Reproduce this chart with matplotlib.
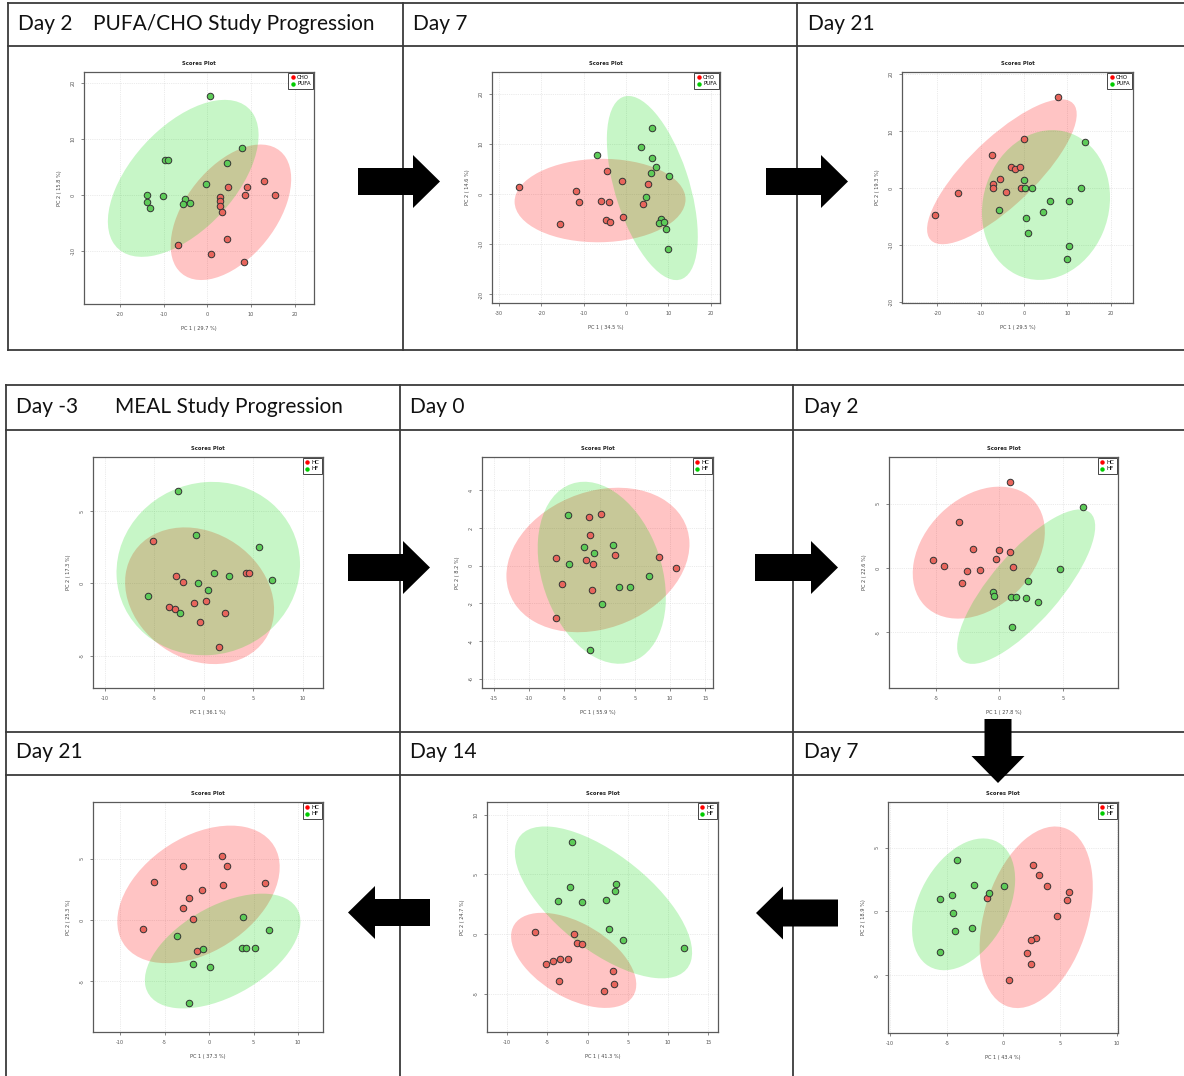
import numpy as np
import matplotlib
matplotlib.use('Agg')
import matplotlib.pyplot as plt
from matplotlib.patches import Ellipse, FancyArrow
from matplotlib.lines import Line2D

W, H = 1184, 1076

# PUFA/CHO study scores (PC1, PC2)
cho_d2_pc1 = [4.7, 9.0, 12.9, 8.7, 15.5, 3.0, 3.0, 3.0, 3.4, 4.6, -6.7, 0.8, 8.3]
cho_d2_pc2 = [1.4, 1.4, 2.5, 0.0, 0.0, -0.3, -1.0, -2.0, -3.0, -7.8, -8.9, -10.5, -12.0]
pufa_d2_pc1 = [0.6, 8.0, 4.4, -9.7, -9.1, -0.3, -13.9, -13.7, -13.1, -10.2, -5.1, -5.5, -4.0]
pufa_d2_pc2 = [17.7, 8.4, 5.8, 6.2, 6.2, 1.9, 0.0, -1.2, -2.3, -0.2, -0.7, -1.7, -1.4]

cho_d7_pc1 = [-25.4, -15.7, -11.9, -11.1, -5.9, -4.1, -4.6, -4.8, -3.9, -0.9, -0.7, 5.1, 3.9]
cho_d7_pc2 = [1.4, -5.9, 0.6, -1.5, -1.3, -1.5, 4.6, -5.2, -5.6, 2.7, -4.6, 2.0, -2.0]
pufa_d7_pc1 = [-6.8, 6.1, 3.5, 6.1, 7.1, 5.8, 10.1, 4.7, 8.2, 7.7, 8.9, 9.4, 9.8]
pufa_d7_pc2 = [7.9, 13.2, 9.5, 7.2, 5.4, 4.2, 3.6, -0.5, -5.0, -5.8, -5.6, -7.0, -10.9]

cho_d21_pc1 = [7.8, -0.1, -7.5, -2.9, -2.0, -1.0, -5.6, -7.2, -7.2, -4.1, -0.8, -15.2, -20.6]
cho_d21_pc2 = [16.1, 8.6, 5.8, 3.7, 3.4, 3.8, 1.7, 0.8, 0.0, -0.6, 0.0, -0.8, -4.7]
pufa_d21_pc1 = [14.1, 0.1, 0.3, 1.8, 13.1, 5.9, 10.3, 4.3, -5.7, 0.5, 1.0, 10.5, 9.9]
pufa_d21_pc2 = [8.2, 1.5, 0.1, 0.1, 0.1, -2.2, -2.2, -4.2, -3.8, -5.2, -7.9, -10.1, -12.4]

# MEAL study scores (PC1, PC2)
hc_dm3_pc1 = [-5.13, -2.77, -2.12, 4.25, 4.59, -3.47, -2.90, -1.01, 0.24, 2.16, -0.40, 1.55]
hc_dm3_pc2 = [2.92, 0.53, 0.07, 0.69, 0.69, -1.66, -1.79, -1.38, -1.24, -2.07, -2.64, -4.41]
hf_dm3_pc1 = [-2.56, -0.78, 5.63, 1.05, 2.56, 6.88, -0.57, 0.40, -5.63, -2.36]
hf_dm3_pc2 = [6.41, 3.31, 2.51, 0.69, 0.51, 0.23, 0.0, -0.48, -0.90, -2.07]

hc_d0_pc1 = [0.19, -1.51, -1.32, -6.19, -1.94, -0.94, 2.22, 8.50, 10.86, -5.39, -1.13, -6.19]
hc_d0_pc2 = [2.75, 2.59, 1.62, 0.39, 0.30, 0.09, 0.58, 0.48, -0.14, -0.97, -1.27, -2.78]
hf_d0_pc1 = [-4.44, -2.22, -0.85, 1.94, -4.35, 6.99, 2.79, 4.30, 0.33, -1.42]
hf_d0_pc2 = [2.68, 0.97, 0.65, 1.09, 0.11, -0.53, -1.13, -1.13, -2.01, -4.44]

hc_d2_pc1 = [0.84, -3.21, -2.09, -0.05, 0.84, -0.29, -5.25, -4.33, -2.51, -1.49, 1.04, -2.98]
hc_d2_pc2 = [6.71, 3.60, 1.48, 1.37, 1.22, 0.67, 0.62, 0.16, -0.21, -0.18, 0.08, -1.14]
hf_d2_pc1 = [6.55, 4.75, 2.22, -0.52, -0.42, 0.94, 1.33, 2.06, 3.03, 0.99]
hf_d2_pc2 = [4.72, -0.05, -1.04, -1.87, -2.15, -2.28, -2.28, -2.33, -2.64, -4.61]

hc_d7_pc1 = [2.65, 3.18, 3.86, 5.80, 5.63, -1.44, 4.77, 2.86, 2.47, 2.09, 2.42, 0.53]
hc_d7_pc2 = [3.67, 2.86, 1.98, 1.54, 0.86, 1.02, -0.39, -2.11, -2.27, -3.26, -4.11, -5.34]
hf_d7_pc1 = [-4.12, -2.62, -4.57, -5.63, -1.24, 0.06, -4.42, -4.27, -2.74, -5.63]
hf_d7_pc2 = [4.01, 2.08, 1.25, 0.96, 1.41, 1.98, -0.13, -1.51, -1.33, -3.20]

hc_d14_pc1 = [-6.53, -1.69, -1.32, -0.66, -3.43, -4.26, -2.40, -5.17, 3.10, -3.60, 3.22, 1.98]
hc_d14_pc2 = [0.17, 0.0, -0.78, -0.84, -2.13, -2.27, -2.13, -2.52, -3.08, -3.97, -4.23, -4.81]
hf_d14_pc1 = [-1.90, -2.15, 3.55, 3.43, -3.72, -0.74, 2.27, 2.60, 4.42, 11.94]
hf_d14_pc2 = [7.75, 3.97, 4.20, 3.64, 2.77, 2.66, 2.83, 0.42, -0.53, -1.20]

hc_d21_pc1 = [1.50, 1.98, -2.95, -6.21, 6.32, 1.57, -0.79, -2.28, -2.92, -1.83, -7.40, -1.31]
hc_d21_pc2 = [5.26, 4.44, 4.44, 3.11, 3.00, 2.83, 2.43, 1.80, 0.95, 0.11, -0.71, -2.53]
hf_d21_pc1 = [3.78, 6.69, -3.63, -0.67, 3.70, 4.11, 5.16, -1.76, 0.07, -2.24]
hf_d21_pc2 = [0.25, -0.84, -1.31, -2.34, -2.32, -2.32, -2.32, -3.57, -3.84, -6.78]

RED = '#E8655C'
GREEN = '#5DCB58'
CHI95 = np.sqrt(-2 * np.log(0.05))

fig = plt.figure(figsize=(W / 100, H / 100), dpi=100)

# background layer in pixel coordinates for table lines, headers and arrows
bg = fig.add_axes([0, 0, 1, 1], zorder=0)
bg.set_xlim(0, W)
bg.set_ylim(H, 0)
bg.axis('off')

lc = '#3a3a3a'
for y in [3, 46, 350]:
    bg.plot([8, W], [y, y], color=lc, lw=1.3)
for x in [8, 403, 797]:
    bg.plot([x, x], [3, 350], color=lc, lw=1.3)
for y in [385, 430, 732, 775]:
    bg.plot([6, W], [y, y], color=lc, lw=1.3)
for x in [6, 400, 793]:
    bg.plot([x, x], [385, H], color=lc, lw=1.3)

hfont = dict(fontsize=15, family=['Lato', 'DejaVu Sans'], va='center', color='#111111')
bg.text(18, 24, 'Day 2', **hfont)
bg.text(93, 24, 'PUFA/CHO Study Progression', **hfont)
bg.text(413, 24, 'Day 7', **hfont)
bg.text(808, 24, 'Day 21', **hfont)
bg.text(16, 407, 'Day -3', **hfont)
bg.text(115, 407, 'MEAL Study Progression', **hfont)
bg.text(410, 407, 'Day 0', **hfont)
bg.text(804, 407, 'Day 2', **hfont)
bg.text(16, 752, 'Day 21', **hfont)
bg.text(410, 752, 'Day 14', **hfont)
bg.text(804, 752, 'Day 7', **hfont)


def arrow(x0, y0, x1, y1):
    bg.add_patch(FancyArrow(x0, y0, x1 - x0, y1 - y0, width=27, head_width=53,
                            head_length=27, length_includes_head=True,
                            color='black', lw=0, zorder=5))


arrow(358, 181.5, 440, 181.5)
arrow(766, 181.5, 848, 181.5)
arrow(348, 567.5, 430, 567.5)
arrow(755, 567.5, 838, 567.5)
arrow(998, 719, 998, 783)
arrow(838, 913, 756, 913)
arrow(430, 912.5, 348, 912.5)


def conf_ellipse(ax, x, y, color):
    x = np.asarray(x)
    y = np.asarray(y)
    cov = np.cov(x, y)
    vals, vecs = np.linalg.eigh(cov)
    order = vals.argsort()[::-1]
    vals, vecs = vals[order], vecs[:, order]
    angle = np.degrees(np.arctan2(vecs[1, 0], vecs[0, 0]))
    w, h = 2 * CHI95 * np.sqrt(vals)
    ax.add_patch(Ellipse((x.mean(), y.mean()), w, h, angle=angle,
                         facecolor=color, edgecolor='none', zorder=1))


def panel(box, xlim, ylim, xticks, yticks, g1, g2, names, pc1, pc2):
    l, t, r, b = box
    ax = fig.add_axes([l / W, 1 - b / H, (r - l) / W, (b - t) / H], zorder=2)
    ax.set_xlim(*xlim)
    ax.set_ylim(*ylim)
    conf_ellipse(ax, g1[0], g1[1], (1, 0, 0, 0.23))
    conf_ellipse(ax, g2[0], g2[1], (0, 0.85, 0, 0.22))
    ax.scatter(g1[0], g1[1], s=22, c=RED, edgecolors='#333333', linewidths=0.7, zorder=3)
    ax.scatter(g2[0], g2[1], s=22, c=GREEN, edgecolors='#333333', linewidths=0.7, zorder=3)
    ax.set_xticks(xticks)
    ax.set_yticks(yticks)
    ax.set_xticklabels([str(v) for v in xticks])
    ax.set_yticklabels([str(v) for v in yticks], rotation=90, va='center')
    ax.tick_params(labelsize=3.6, length=2, width=0.5, colors='#555555', pad=4)
    ax.grid(True, color='#d8d8d8', lw=0.5, ls=':')
    ax.set_axisbelow(True)
    for s in ax.spines.values():
        s.set_color('#5a5a5a')
        s.set_linewidth(0.9)
    ax.set_title('Scores Plot', fontsize=3.8, fontweight='bold', pad=5, color='#222222')
    ax.set_xlabel(pc1, fontsize=3.6, color='#444444', labelpad=6)
    ax.set_ylabel(pc2, fontsize=3.6, color='#444444', labelpad=6)
    handles = [Line2D([], [], ls='none', marker='o', color='red', markersize=2.2),
               Line2D([], [], ls='none', marker='o', color='#00cc00', markersize=2.2)]
    leg = ax.legend(handles, names, loc='upper right', fontsize=4, borderaxespad=0.15,
                    handlelength=0.6, handletextpad=0.5, borderpad=0.45, labelspacing=0.2,
                    fancybox=False, framealpha=1, shadow=False)
    leg.get_frame().set_edgecolor('#444444')
    leg.get_frame().set_linewidth(0.7)
    return ax


panel((84, 72, 314, 304), (-28.2, 24.4), (-19.5, 22), [-20, -10, 0, 10, 20], [-10, 0, 10, 20],
      (cho_d2_pc1, cho_d2_pc2), (pufa_d2_pc1, pufa_d2_pc2), ['CHO', 'PUFA'],
      'PC 1 ( 29.7 %)', 'PC 2 ( 15.8 %)')
panel((492, 72, 720, 303), (-31.7, 22.2), (-21.7, 24.4), [-30, -20, -10, 0, 10, 20],
      [-20, -10, 0, 10, 20],
      (cho_d7_pc1, cho_d7_pc2), (pufa_d7_pc1, pufa_d7_pc2), ['CHO', 'PUFA'],
      'PC 1 ( 34.5 %)', 'PC 2 ( 14.6 %)')
panel((902, 72, 1133, 303), (-28.2, 25.2), (-20.1, 20.4), [-20, -10, 0, 10, 20],
      [-20, -10, 0, 10, 20],
      (cho_d21_pc1, cho_d21_pc2), (pufa_d21_pc1, pufa_d21_pc2), ['CHO', 'PUFA'],
      'PC 1 ( 29.5 %)', 'PC 2 ( 19.3 %)')

panel((93, 457, 323, 688), (-11.2, 12.07), (-7.24, 8.74), [-10, -5, 0, 5, 10], [-5, 0, 5],
      (hc_dm3_pc1, hc_dm3_pc2), (hf_dm3_pc1, hf_dm3_pc2), ['HC', 'HF'],
      'PC 1 ( 36.1 %)', 'PC 2 ( 17.3 %)')
panel((482, 457, 713, 688), (-16.7, 16.1), (-6.48, 5.76), [-15, -10, -5, 0, 5, 10, 15],
      [-6, -4, -2, 0, 2, 4],
      (hc_d0_pc1, hc_d0_pc2), (hf_d0_pc1, hf_d0_pc2), ['HC', 'HF'],
      'PC 1 ( 55.9 %)', 'PC 2 ( 8.2 %)')
panel((889, 457, 1118, 688), (-8.67, 9.3), (-9.35, 8.65), [-5, 0, 5], [-5, 0, 5],
      (hc_d2_pc1, hc_d2_pc2), (hf_d2_pc1, hf_d2_pc2), ['HC', 'HF'],
      'PC 1 ( 27.8 %)', 'PC 2 ( 22.6 %)')

panel((93, 802, 323, 1032), (-13.05, 12.8), (-9.16, 9.65), [-10, -5, 0, 5, 10], [-5, 0, 5],
      (hc_d21_pc1, hc_d21_pc2), (hf_d21_pc1, hf_d21_pc2), ['HC', 'HF'],
      'PC 1 ( 37.3 %)', 'PC 2 ( 25.3 %)')
panel((487, 802, 718, 1032), (-12.5, 16.2), (-8.23, 11.08), [-10, -5, 0, 5, 10, 15],
      [-5, 0, 5, 10],
      (hc_d14_pc1, hc_d14_pc2), (hf_d14_pc1, hf_d14_pc2), ['HC', 'HF'],
      'PC 1 ( 41.3 %)', 'PC 2 ( 24.7 %)')
panel((888, 802, 1118, 1033), (-10.2, 10.13), (-9.53, 8.57), [-10, -5, 0, 5, 10], [-5, 0, 5],
      (hc_d7_pc1, hc_d7_pc2), (hf_d7_pc1, hf_d7_pc2), ['HC', 'HF'],
      'PC 1 ( 43.4 %)', 'PC 2 ( 18.9 %)')

fig.savefig('out.png', dpi=100)
